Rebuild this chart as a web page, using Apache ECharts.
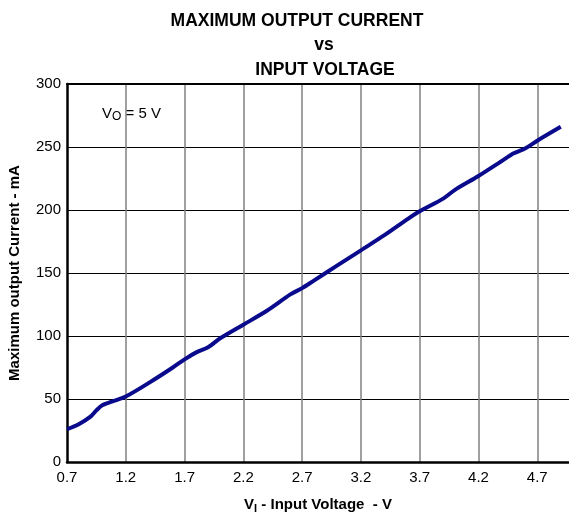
<!DOCTYPE html>
<html>
<head>
<meta charset="utf-8">
<script src="https://cdn.jsdelivr.net/npm/echarts@6/dist/echarts.min.js"></script>
<style>
  html, body { margin: 0; padding: 0; background: #fff; }
  #chart { width: 569px; height: 516px; }
</style>
</head>
<body>
<div id="chart"></div>
<script>
// input voltage (V) and max output current (mA)
const voltage = [0.7, 0.8, 0.9, 0.95, 1.0, 1.1, 1.2, 1.4, 1.6, 1.7, 1.8, 1.9, 2.0, 2.2, 2.4, 2.6, 2.7, 2.8,
  3.0, 3.2, 3.4, 3.6, 3.7, 3.9, 4.0, 4.2, 4.4, 4.5, 4.6, 4.7, 4.9];
const current = [26, 30, 36, 41, 45, 48.5, 52, 63, 75, 81.5, 87, 91, 98, 109, 120, 133, 138, 144,
  156, 168, 180, 193, 199, 209, 216, 227, 239, 245, 249, 255, 266];
const titleLines = ["MAXIMUM OUTPUT CURRENT", "vs", "INPUT VOLTAGE"];

const font = "Liberation Sans, Arial, sans-serif";
const chart = echarts.init(document.getElementById("chart"));

const titleStyle = { fontFamily: font, fontSize: 17.5, fontWeight: "bold", color: "#000" };

const option = {
  animation: false,
  title: [
    { text: titleLines[0], left: 292, top: 7, textAlign: "center", textStyle: titleStyle },
    { text: titleLines[1], left: 319, top: 31, textAlign: "center", textStyle: titleStyle },
    { text: titleLines[2], left: 320, top: 56, textAlign: "center", textStyle: titleStyle }
  ],
  grid: {
    left: 67, top: 84, right: 0, bottom: 54,
    outerBoundsMode: "none",
    containLabel: false
  },
  xAxis: [
    {
      type: "value",
      min: 0.7, max: 4.97, interval: 0.5,
      name: "V{sub|I} - Input Voltage  - V",
      nameLocation: "middle",
      nameGap: 34,
      nameTextStyle: {
        fontFamily: font, fontSize: 15, fontWeight: "bold", color: "#000",
        rich: { sub: { fontFamily: font, fontSize: 11, fontWeight: "bold", verticalAlign: "bottom", padding: [7, 0, 0, 0] } }
      },
      axisLine: { lineStyle: { color: "#000", width: 2.5 } },
      axisTick: { show: false },
      axisLabel: {
        fontFamily: font, fontSize: 15, color: "#000", margin: 8,
        showMaxLabel: false,
        formatter: v => v.toFixed(1)
      },
      splitLine: { show: true, showMinLine: false, showMaxLine: false, lineStyle: { color: "#808080", width: 1.5 } }
    },
    {
      // top frame line
      type: "value", position: "top",
      min: 0.7, max: 4.97,
      axisLine: { show: true, onZero: false, lineStyle: { color: "#000", width: 2 } },
      axisTick: { show: false }, axisLabel: { show: false }, splitLine: { show: false }
    }
  ],
  yAxis: {
    type: "value",
    min: 0, max: 300, interval: 50,
    name: "Maximum output Current - mA",
    nameLocation: "middle",
    nameGap: 45,
    nameTextStyle: { fontFamily: font, fontSize: 15, fontWeight: "bold", color: "#000" },
    axisLine: { show: true, lineStyle: { color: "#000", width: 2.5 } },
    axisTick: { show: false },
    axisLabel: { fontFamily: font, fontSize: 15, color: "#000", margin: 6 },
    splitLine: { show: true, showMinLine: false, showMaxLine: false, lineStyle: { color: "#000", width: 1 } }
  },
  graphic: [
    {
      type: "text", left: 102, top: 106,
      style: {
        text: "V{sub|O} = 5 V",
        font: "15px " + font,
        fill: "#000",
        rich: { sub: { fontSize: 12, fontFamily: font, padding: [7, 0, 0, 0] } }
      }
    }
  ],
  series: [
    {
      type: "line",
      xAxisIndex: 0,
      data: voltage.map((v, i) => [v, current[i]]),
      smooth: 0.3,
      showSymbol: false,
      lineStyle: { color: "#0a0a8c", width: 4 }
    }
  ]
};
chart.setOption(option);
</script>
</body>
</html>
